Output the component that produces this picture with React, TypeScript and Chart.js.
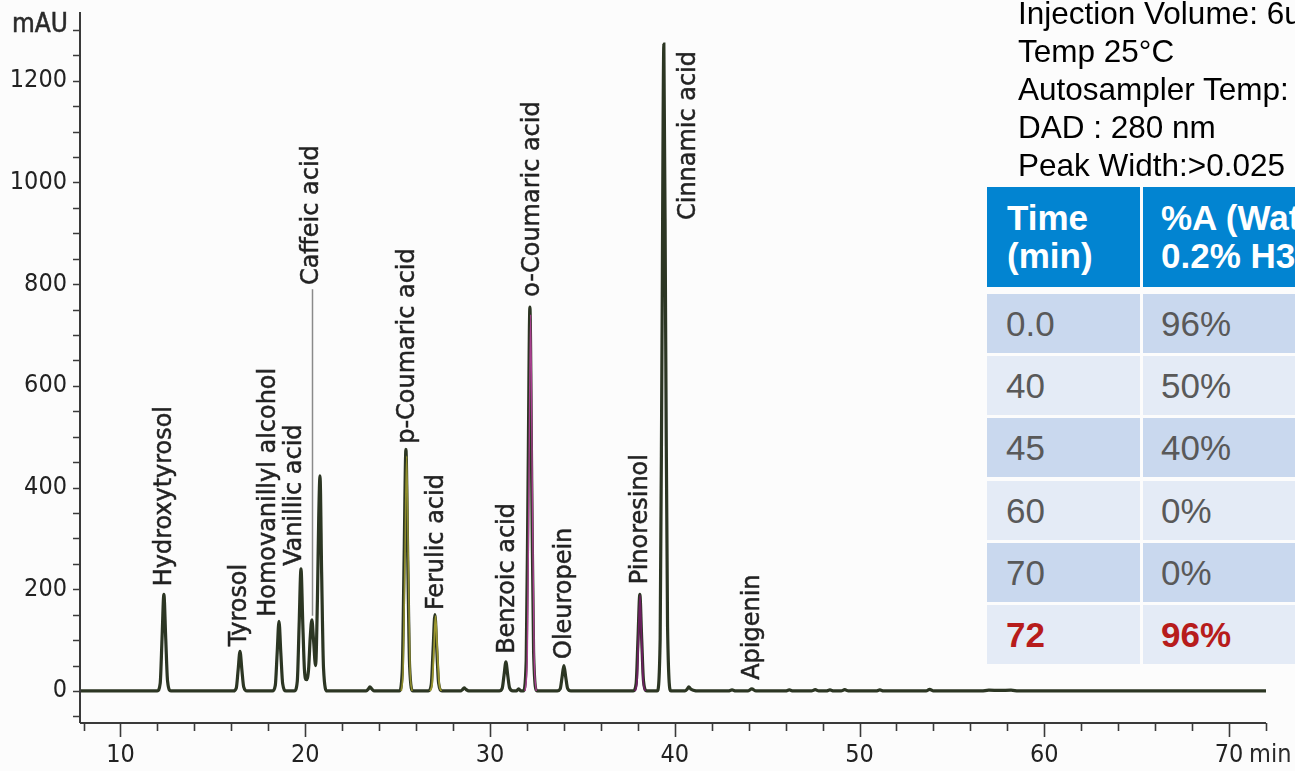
import React, { useEffect, useRef } from "react";
import { Chart, registerables } from "chart.js";

Chart.register(...registerables);

// ---------- axis ranges & ticks ----------
const xRange = [7.81, 72];
const yRange = [-63, 1335];
const xTickValues = [8, 10, 12, 14, 16, 18, 20, 22, 24, 26, 28, 30, 32, 34, 36, 38, 40, 42, 44, 46, 48, 50, 52, 54, 56, 58, 60, 62, 64, 66, 68, 70, 72];
const xMajorTicks = [10, 20, 30, 40, 50, 60, 70];
const yTickValues = [-50, 0, 50, 100, 150, 200, 250, 300, 350, 400, 450, 500, 550, 600, 650, 700, 750, 800, 850, 900, 950, 1000, 1050, 1100, 1150, 1200, 1250, 1300];
const yMajorTicks = [0, 200, 400, 600, 800, 1000, 1200];
const yAxisUnit = "mAU";
const xAxisUnit = "min";

// ---------- chromatogram trace (time min, mAU) ----------
const mainTrace: [number, number][] = [
  [7.81, 0],
  [11.99, 0], [12.15, 15], [12.25, 103], [12.35, 190], [12.45, 103], [12.55, 19], [12.73, 0],
  [16.11, 0], [16.27, 6], [16.37, 42], [16.47, 78], [16.57, 42], [16.67, 8], [16.85, 0],
  [18.22, 0], [18.38, 11], [18.48, 74], [18.58, 137], [18.68, 74], [18.78, 14], [18.96, 0],
  [19.41, 0], [19.57, 19], [19.67, 130], [19.77, 240], [19.87, 130], [19.96, 40], [20.06, 22],
  [20.18, 42], [20.27, 105], [20.36, 140], [20.45, 100], [20.56, 50], [20.66, 180], [20.73, 340],
  [20.8, 423], [20.89, 228], [20.99, 45], [21.18, 0],
  [23.3, 0], [23.42, 4], [23.5, 8], [23.6, 4], [23.75, 0],
  [25.09, 0], [25.25, 38], [25.35, 257], [25.45, 475], [25.55, 257], [25.65, 48], [25.83, 0],
  [26.66, 0], [26.82, 12], [26.92, 81], [27.02, 150], [27.12, 81], [27.22, 15], [27.4, 0],
  [28.4, 0], [28.52, 3], [28.6, 6], [28.7, 3], [28.85, 0],
  [30.5, 0], [30.66, 5], [30.76, 31], [30.86, 57], [30.96, 31], [31.06, 6], [31.24, 0],
  [31.42, 0], [31.55, 4], [31.68, 0],
  [31.8, 0], [31.96, 60], [32.06, 408], [32.16, 755], [32.26, 408], [32.36, 76], [32.54, 0],
  [33.64, 0], [33.8, 4], [33.9, 27], [34.0, 50], [34.1, 27], [34.2, 5], [34.38, 0],
  [37.75, 0], [37.91, 15], [38.01, 103], [38.11, 190], [38.21, 103], [38.31, 19], [38.49, 0],
  [39.05, 0], [39.21, 102], [39.31, 687], [39.41, 1272], [39.51, 687], [39.61, 127], [39.79, 0],
  [40.55, 0], [40.68, 4], [40.76, 8], [40.86, 4], [41.0, 1.5], [41.3, 0],
  [42.9, 0], [43.1, 2], [43.3, 0],
  [43.95, 0], [44.17, 4], [44.4, 0],
  [46.0, 0], [46.2, 2], [46.4, 0],
  [47.4, 0], [47.6, 2.5], [47.8, 0],
  [48.2, 0], [48.4, 2], [48.6, 0],
  [49.0, 0], [49.2, 2.5], [49.4, 0],
  [50.9, 0], [51.1, 2], [51.3, 0],
  [53.6, 0], [53.8, 3], [54.0, 0],
  [56.6, 0], [57.0, 1.5], [57.6, 1], [58.2, 1.5], [58.6, 0],
  [72, 0],
];

// overlaid traces of other channels (visible colour inside some peaks)
const pCoumaricOverlay: [number, number][] = [[25.2, 0], [25.3, 45], [25.4, 270], [25.49, 462], [25.58, 250], [25.67, 45], [25.78, 0]];
const ferulicOverlay: [number, number][] = [[26.76, 0], [26.87, 14], [26.97, 85], [27.05, 147], [27.15, 80], [27.25, 14], [27.36, 0]];
const oCoumaricOverlay: [number, number][] = [[31.9, 0], [32.02, 70], [32.11, 420], [32.2, 740], [32.29, 400], [32.39, 70], [32.5, 0]];
const pinoresinolOverlay: [number, number][] = [[37.85, 0], [37.96, 20], [38.04, 105], [38.12, 188], [38.2, 103], [38.29, 20], [38.4, 0]];

// ---------- peak labels ----------
const peakNames = [
  "Hydroxytyrosol", "Tyrosol", "Homovanillyl alcohol", "Vanillic acid", "Caffeic acid",
  "p-Coumaric acid", "Ferulic acid", "Benzoic acid", "o-Coumaric acid", "Oleuropein",
  "Pinoresinol", "Cinnamic acid", "Apigenin",
];
const peakLabelTime = [12.4, 16.45, 18.02, 19.45, 20.36, 25.55, 27.1, 30.97, 32.3, 34.05, 38.17, 40.76, 44.22];
const peakLabelBase = [206, 88, 146, 246, 798, 486, 159, 73, 775, 63, 210, 926, 22];
const leaderTime = 20.36;
const leaderTop = 790;
const leaderBottom = 148;

// ---------- method text & gradient table ----------
const methodLines = [
  "Injection Volume: 6uL",
  "Temp 25°C",
  "Autosampler Temp: 4°C",
  "DAD : 280 nm",
  "Peak Width:>0.025 min",
];
const tableHeader = [["Time", "(min)"], ["%A (Water +", "0.2% H3PO4)"]];
const gradientTime = ["0.0", "40", "45", "60", "70", "72"];
const gradientA = ["96%", "50%", "40%", "0%", "0%", "96%"];

const COND = '"DejaVu Sans Condensed", "Liberation Sans", Arial, sans-serif';
const SANS = '"Liberation Sans", Arial, sans-serif';

const drawPlugin = {
  id: "chromDecor",
  afterDraw(chart: any) {
    const { ctx, chartArea, scales } = chart;
    const xs = scales.x;
    const ys = scales.y;
    ctx.save();
    // axis lines
    ctx.strokeStyle = "#3a3a3a";
    ctx.lineWidth = 2;
    ctx.beginPath();
    ctx.moveTo(chartArea.left, chartArea.top);
    ctx.lineTo(chartArea.left, chartArea.bottom);
    ctx.moveTo(chartArea.left, chartArea.bottom);
    ctx.lineTo(chartArea.right, chartArea.bottom);
    ctx.stroke();
    // y ticks
    ctx.lineWidth = 1.6;
    ctx.beginPath();
    for (const v of yTickValues) {
      const py = Math.round(ys.getPixelForValue(v)) + 0.5;
      ctx.moveTo(chartArea.left - 7, py);
      ctx.lineTo(chartArea.left, py);
    }
    ctx.stroke();
    // x ticks
    ctx.beginPath();
    for (const v of xTickValues) {
      const px = Math.round(xs.getPixelForValue(v)) + 0.5;
      const len = xMajorTicks.includes(v) ? 14 : 8;
      ctx.moveTo(px, chartArea.bottom);
      ctx.lineTo(px, chartArea.bottom + len);
    }
    ctx.stroke();
    // units
    ctx.fillStyle = "#2a2a2a";
    ctx.strokeStyle = "#2a2a2a";
    ctx.lineWidth = 0.5;
    ctx.font = `26px ${COND}`;
    ctx.textAlign = "left";
    ctx.textBaseline = "alphabetic";
    ctx.fillText(yAxisUnit, 12, 32);
    ctx.strokeText(yAxisUnit, 12, 32);
    ctx.font = `25px ${COND}`;
    ctx.textBaseline = "middle";
    ctx.fillText(xAxisUnit, xs.getPixelForValue(70) + 20, chartArea.bottom + 17 + 15);
    // leader line
    ctx.strokeStyle = "#8a8a8a";
    ctx.lineWidth = 1.5;
    ctx.beginPath();
    const lx = Math.round(xs.getPixelForValue(leaderTime)) + 0.5;
    ctx.moveTo(lx, ys.getPixelForValue(leaderTop));
    ctx.lineTo(lx, ys.getPixelForValue(leaderBottom));
    ctx.stroke();
    // peak labels
    ctx.fillStyle = "#222";
    ctx.strokeStyle = "#222";
    ctx.lineWidth = 0.45;
    ctx.font = `24px ${COND}`;
    ctx.textAlign = "left";
    ctx.textBaseline = "middle";
    peakNames.forEach((name, i) => {
      const px = xs.getPixelForValue(peakLabelTime[i]);
      const py = ys.getPixelForValue(peakLabelBase[i]);
      ctx.save();
      ctx.translate(px, py);
      ctx.rotate(-Math.PI / 2);
      ctx.scale(1.11, 1);
      ctx.fillText(name, 0, 0);
      ctx.strokeText(name, 0, 0);
      ctx.restore();
    });
    ctx.restore();
  },
};

const toXY = (pts: [number, number][]) => pts.map(([x, y]) => ({ x, y }));

function ChromChart() {
  const ref = useRef<HTMLCanvasElement | null>(null);
  useEffect(() => {
    if (!ref.current) return;
    const lineDefaults = {
      pointRadius: 0,
      fill: false,
      cubicInterpolationMode: "monotone" as const,
    };
    const chart = new Chart(ref.current, {
      type: "line",
      data: {
        datasets: [
          { ...lineDefaults, data: toXY(mainTrace), borderColor: "#2c3623", borderWidth: 3.2, order: 2 },
          { ...lineDefaults, data: toXY(pCoumaricOverlay), borderColor: "#8e8c2c", borderWidth: 1.6, order: 1 },
          { ...lineDefaults, data: toXY(ferulicOverlay), borderColor: "#9a962e", borderWidth: 1.8, order: 1 },
          { ...lineDefaults, data: toXY(oCoumaricOverlay), borderColor: "#a8408f", borderWidth: 1.4, order: 1 },
          { ...lineDefaults, data: toXY(pinoresinolOverlay), borderColor: "#6e1f62", borderWidth: 1.8, order: 1 },
        ],
      },
      options: {
        animation: false,
        responsive: false,
        events: [],
        layout: { padding: { left: 0, right: 29, top: 12, bottom: 0 } },
        plugins: { legend: { display: false }, tooltip: { enabled: false } },
        scales: {
          x: {
            type: "linear",
            min: xRange[0],
            max: xRange[1],
            grid: { display: false, drawTicks: false },
            border: { display: false },
            afterBuildTicks: (s: any) => {
              s.ticks = xTickValues.map((v) => ({ value: v }));
            },
            afterFit: (s: any) => {
              s.height = 48;
              s.paddingLeft = 0;
              s.paddingRight = 0;
            },
            ticks: {
              autoSkip: false,
              maxRotation: 0,
              minRotation: 0,
              padding: 17,
              color: "#222",
              font: { family: COND, size: 25 },
              callback: (v: any) => (xMajorTicks.includes(Number(v)) ? String(v) : ""),
            },
          },
          y: {
            type: "linear",
            min: yRange[0],
            max: yRange[1],
            grid: { display: false, drawTicks: false },
            border: { display: false },
            afterBuildTicks: (s: any) => {
              s.ticks = yTickValues.map((v) => ({ value: v }));
            },
            afterFit: (s: any) => {
              s.width = 80;
              s.paddingTop = 0;
              s.paddingBottom = 0;
            },
            ticks: {
              autoSkip: false,
              padding: 13,
              color: "#222",
              font: { family: COND, size: 25 },
              callback: (v: any) => (yMajorTicks.includes(Number(v)) ? String(v) : ""),
            },
          },
        },
      },
      plugins: [drawPlugin],
    });
    return () => chart.destroy();
  }, []);
  return (
    <canvas
      ref={ref}
      width={1295}
      height={771}
      style={{ position: "absolute", left: 0, top: 0, width: 1295, height: 771 }}
    />
  );
}

function GradientTable() {
  const rowTops = [294, 356, 418, 481, 543, 605];
  return (
    <>
      <div
        style={{
          position: "absolute",
          left: 1018,
          top: -6,
          fontFamily: SANS,
          fontSize: 31.5,
          lineHeight: "38px",
          color: "#000",
          whiteSpace: "nowrap",
        }}
      >
        {methodLines.map((l, i) => (
          <div key={i}>{l}</div>
        ))}
      </div>
      {tableHeader.map((lines, c) => (
        <div
          key={"h" + c}
          style={{
            position: "absolute",
            left: c === 0 ? 987 : 1143,
            top: 187,
            width: c === 0 ? 153 : 320,
            height: 100,
            background: "#0284d1",
            color: "#fff",
            fontFamily: SANS,
            fontWeight: "bold",
            fontSize: 35,
            lineHeight: "38px",
            boxSizing: "border-box",
            paddingTop: 12,
            paddingLeft: c === 0 ? 20 : 18,
            whiteSpace: "nowrap",
          }}
        >
          {lines.map((l, i) => (
            <div key={i}>{l}</div>
          ))}
        </div>
      ))}
      {gradientTime.map((t, r) => {
        const last = r === gradientTime.length - 1;
        const bg = r % 2 === 0 ? "#c9d8ee" : "#e4ebf6";
        const cellStyle: React.CSSProperties = {
          position: "absolute",
          top: rowTops[r],
          height: 59,
          background: bg,
          fontFamily: SANS,
          fontSize: 35,
          lineHeight: "59px",
          fontWeight: last ? "bold" : "normal",
          color: last ? "#b71c1c" : "#595959",
          boxSizing: "border-box",
          whiteSpace: "nowrap",
        };
        return (
          <React.Fragment key={"r" + r}>
            <div style={{ ...cellStyle, left: 987, width: 153, paddingLeft: 19 }}>{t}</div>
            <div style={{ ...cellStyle, left: 1143, width: 320, paddingLeft: 18 }}>{gradientA[r]}</div>
          </React.Fragment>
        );
      })}
    </>
  );
}

export default function App() {
  return (
    <div
      style={{
        position: "absolute",
        left: 0,
        top: 0,
        width: 1295,
        height: 771,
        overflow: "hidden",
        background: "#fcfcfc",
      }}
    >
      <ChromChart />
      <GradientTable />
    </div>
  );
}
